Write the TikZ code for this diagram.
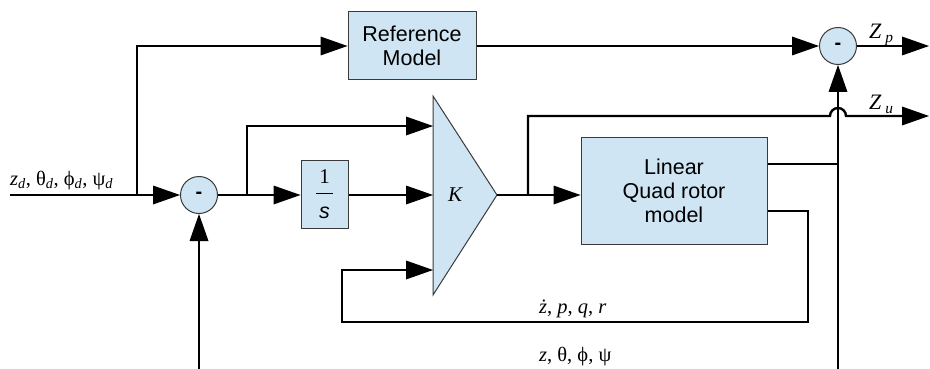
\documentclass[tikz,border=0pt]{standalone}
\usepackage{fontspec}
\setmainfont{Liberation Sans}
\newfontfamily\tms{Liberation Serif}
\usetikzlibrary{arrows.meta,positioning}
\definecolor{blkFill}{HTML}{CFE5F3}
\definecolor{blkEdge}{HTML}{3A3A3A}
\tikzset{
  every picture/.style={font=\fontsize{21.5}{24}\selectfont},
  blk/.style={draw=blkEdge, line width=1pt, fill=blkFill, align=center,
    inner sep=0pt},
  sum/.style={circle, draw=blkEdge, line width=1pt, fill=blkFill,
    minimum size=37pt, inner sep=0pt, font=\fontsize{20}{23}\selectfont\bfseries},
  sig/.style={draw=black, line width=2.4pt},
  sig arrow/.style={sig, -{Triangle[length=27pt,width=19pt,line width=0pt]}},
  lbl/.style={font=\tms\fontsize{20.5}{22}\selectfont, inner sep=0pt,
    anchor=base west},
  outlbl/.style={font=\tms\fontsize{22}{24}\selectfont, inner sep=0pt,
    anchor=base west}
}

\begin{document}
\begin{tikzpicture}[x=1pt,y=-1pt]
  \useasboundingbox (0,0) rectangle (930,369);
  % blocks
  \node[sum] (s1) at (199,195) {-};
  \node[sum] (s2) at (838,46) {-};
  \node[blk, minimum width=128pt, minimum height=68pt] (ref) at (412,46)
    {Reference\\Model};
  \node[blk, minimum width=47pt, minimum height=68pt] (integ) at (324.5,194)
    {\tms\fontsize{21}{20}\selectfont 1\\[-13pt]\rule{17pt}{1.8pt}\\\textit{s}};
  \node[blk, minimum width=186pt, minimum height=107pt] (quad) at (674,190.5)
    {Linear\\Quad rotor\\model};
  % gain triangle
  \coordinate (ktop) at (433,96);
  \coordinate (kout) at (497,195);
  \coordinate (kbot) at (433,295);
  \draw[blk] (ktop) -- (kout) -- (kbot) -- cycle;
  \node[font=\tms\itshape\fontsize{21}{23}\selectfont] (K) at (455,195) {K};
  \coordinate (kin1) at (433,126);
  \coordinate (kin2) at (433,195);
  \coordinate (kin3) at (433,270);

  % free ends and branch points
  \coordinate (in) at (10,195);
  \coordinate (br1) at (137,195);
  \coordinate (br2) at (247,195);
  \coordinate (br3) at (528,195);
  \coordinate (zp) at (929,46);
  \coordinate (zu) at (929,116);
  \coordinate (fbz) at (838,369);
  \coordinate (fbs) at (199,369);
  \coordinate (qo1) at ([yshift=26.5pt]quad.east);
  \coordinate (qo2) at ([yshift=-20.5pt]quad.east);
  \coordinate (fb1) at (808,322);
  \coordinate (fb2) at (342,322);

  % signals
  \draw[sig arrow] (in) -- (s1.west);
  \draw[sig arrow] (br1) |- (ref.west);
  \draw[sig arrow] (ref.east) -- (s2.west);
  \draw[sig arrow] (s2.east) -- (zp);
  \draw[sig arrow] (s1.east) -- (integ.west |- s1);
  \draw[sig arrow] (br2) |- (kin1);
  \draw[sig arrow] (integ.east |- kin2) -- (kin2);
  \draw[sig arrow] (kout) -- (quad.west |- kout);
  \draw[sig arrow] (br3) -- (br3 |- zu) -- ([xshift=-8pt]s2 |- zu)
    arc[start angle=180, end angle=0, radius=8pt] -- (zu);
  \draw[sig] (qo1) -- (s2 |- qo1);
  \draw[sig arrow] (qo2) -| (fb1) -- (fb2) |- (kin3);
  \draw[sig arrow] (fbz) -- (s2.south);
  \draw[sig arrow] (fbs) -- (s1.south);

  % labels
  \node[lbl] (lref) at (10,185)
    {\textit{z}\textsubscript{\textit{d}}, θ\textsubscript{\textit{d}},
     ϕ\textsubscript{\textit{d}}, ψ\textsubscript{\textit{d}}};
  \node[outlbl] (lzp) at (869,39) {\textit{Z}\,\textsubscript{\textit{p}}};
  \node[outlbl] (lzu) at (869,110) {\textit{Z}\,\textsubscript{\textit{u}}};
  \node[lbl] (lrate) at (539,313) {\textit{ż}, \textit{p}, \textit{q}, \textit{r}};
  \node[lbl] (lang) at (539,361) {\textit{z}, θ, ϕ, ψ};
\end{tikzpicture}
\end{document}
